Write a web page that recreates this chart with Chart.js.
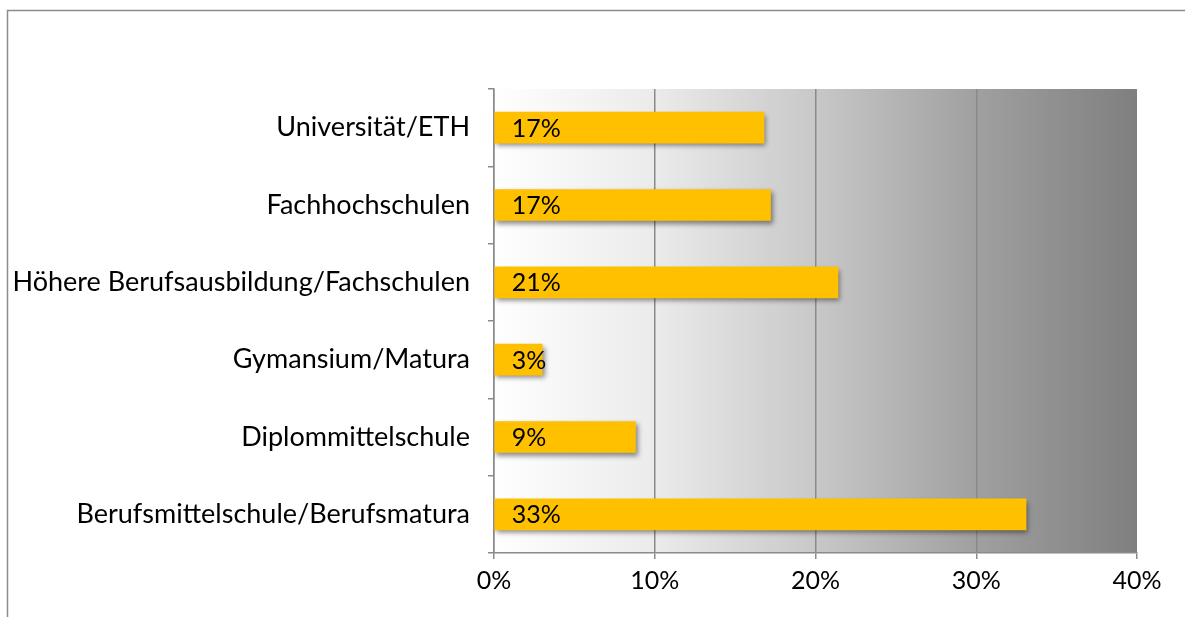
<!DOCTYPE html>
<html>
<head>
<meta charset="utf-8">
<script src="https://cdn.jsdelivr.net/npm/chart.js@4.4.0/dist/chart.umd.min.js"></script>
<style>
html, body { margin: 0; padding: 0; background: #fff; }
#wrap { width: 1185px; height: 617px; position: relative; }
</style>
</head>
<body>
<div id="wrap"><canvas id="canvas"></canvas></div>
<script>
var categories = [
	"Universität/ETH",
	"Fachhochschulen",
	"Höhere Berufsausbildung/Fachschulen",
	"Gymansium/Matura",
	"Diplommittelschule",
	"Berufsmittelschule/Berufsmatura"
];
var shares = [16.8, 17.2, 21.4, 3.0, 8.8, 33.1];
var tickValues = [0, 10, 20, 30, 40];

var fontName = "Lato, 'Noto Sans', sans-serif";

// frame + gradient behind the plot
var backPlugin = {
	id: "backPlugin",
	beforeDraw: function(chart) {
		var ctx = chart.ctx;
		var a = chart.chartArea;
		ctx.save();
		ctx.strokeStyle = "#8c8c8c";
		ctx.lineWidth = 1.5;
		ctx.strokeRect(7.5, 10.5, 1300, 700);
		var g = ctx.createLinearGradient(a.left, 0, a.right, 0);
		g.addColorStop(0, "#ffffff");
		g.addColorStop(0.25, "#ebebeb");
		g.addColorStop(0.5, "#c8c8c8");
		g.addColorStop(0.75, "#a0a0a0");
		g.addColorStop(1, "#7f7f7f");
		ctx.fillStyle = g;
		ctx.fillRect(a.left, a.top, a.right - a.left, a.bottom - a.top);
		ctx.restore();
	},
	beforeDatasetsDraw: function(chart) {
		var ctx = chart.ctx;
		ctx.save();
		ctx.shadowColor = "rgba(0,0,0,0.45)";
		ctx.shadowBlur = 5;
		ctx.shadowOffsetX = 2;
		ctx.shadowOffsetY = 3;
	},
	afterDatasetsDraw: function(chart) {
		var ctx = chart.ctx;
		ctx.restore();
		var meta = chart.getDatasetMeta(0);
		ctx.save();
		ctx.font = "25px " + fontName;
		ctx.fillStyle = "#000";
		ctx.textAlign = "left";
		ctx.textBaseline = "middle";
		meta.data.forEach(function(bar, i) {
			ctx.fillText(Math.round(shares[i]) + "%", bar.base + 17, bar.y + 1);
		});
		ctx.restore();
	}
};

var ctx = document.getElementById("canvas").getContext("2d");
window.myBar = new Chart(ctx, {
	type: "bar",
	data: {
		labels: categories,
		datasets: [{
			data: shares,
			backgroundColor: "#ffc000",
			borderWidth: 0,
			barThickness: 31
		}]
	},
	options: {
		indexAxis: "y",
		responsive: true,
		maintainAspectRatio: false,
		animation: false,
		layout: { padding: { top: 89, right: 48, left: 0, bottom: 0 } },
		plugins: {
			legend: { display: false },
			tooltip: { enabled: false }
		},
		scales: {
			x: {
				min: 0,
				max: 40,
				afterFit: function(scale) { scale.height = 64; },
				afterBuildTicks: function(scale) {
					scale.ticks = tickValues.map(function(v) { return { value: v }; });
				},
				ticks: {
					padding: 7,
					color: "#000",
					font: { size: 25, family: fontName },
					callback: function(v) { return v + "%"; }
				},
				grid: {
					color: function(c) { return c.tick && c.tick.value === 40 ? "rgba(0,0,0,0)" : "#8a8a8a"; },
					tickColor: "#8a8a8a",
					tickLength: 6,
					lineWidth: 1.5
				},
				border: { color: "#8a8a8a", width: 1.5 }
			},
			y: {
				afterFit: function(scale) { scale.width = 494; },
				ticks: {
					padding: 18,
					color: "#000",
					font: { size: 27, family: fontName }
				},
				grid: {
					drawOnChartArea: false,
					offset: true,
					tickColor: "#8a8a8a",
					tickLength: 6,
					lineWidth: 1.5
				},
				border: { color: "#8a8a8a", width: 1.5 }
			}
		}
	},
	plugins: [backPlugin]
});
</script>
</body>
</html>
